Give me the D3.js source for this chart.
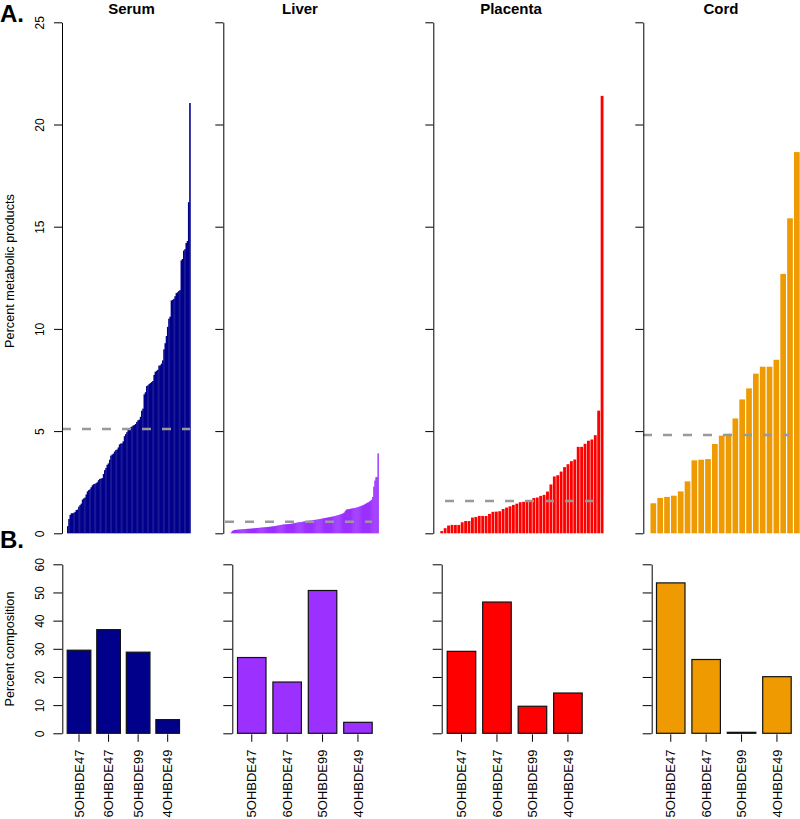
<!DOCTYPE html>
<html>
<head>
<meta charset="utf-8">
<script src="https://cdn.jsdelivr.net/npm/d3@7"></script>
<style>
  body { margin: 0; background: #fff; }
  svg { font-family: "Liberation Sans", Arial, Helvetica, sans-serif; }
</style>
</head>
<body>
<div id="chart"></div>
<script>
// data
var tissues = ["Serum", "Liver", "Placenta", "Cord"];
var colors = ["#00008B", "#9B30FF", "#FF0000", "#EE9A00"];

var serumPct = [0.35,0.7,0.9,0.98,0.98,1.0,1.05,1.14,1.16,1.3,
  1.38,1.45,1.65,1.71,1.75,1.9,2.05,2.11,2.15,2.25,
  2.35,2.4,2.42,2.45,2.5,2.6,2.66,2.68,2.7,2.9,
  3.09,3.2,3.35,3.42,3.6,3.8,3.85,3.9,4.0,4.07,
  4.1,4.2,4.35,4.39,4.4,4.5,4.75,4.85,4.95,5.1,
  5.15,5.18,5.22,5.27,5.3,5.35,5.45,5.53,5.56,5.7,
  6.0,6.1,6.8,6.9,7.2,7.24,7.3,7.35,7.4,7.45,
  7.75,7.9,7.95,8.0,8.2,8.22,8.3,8.46,9.0,9.3,
  9.65,10.1,10.5,10.6,11.39,11.42,11.47,11.6,11.75,11.79,
  11.85,11.9,13.35,13.42,13.83,13.9,14.2,14.3,16.2,21.05];

var liverPct = [0.05,0.12,0.14,0.16,0.17,0.17,0.18,0.18,0.19,0.19,
  0.2,0.2,0.2,0.21,0.21,0.22,0.22,0.22,0.23,0.23,
  0.24,0.24,0.25,0.25,0.26,0.26,0.27,0.27,0.28,0.28,
  0.29,0.29,0.3,0.3,0.31,0.31,0.32,0.32,0.33,0.34,
  0.34,0.35,0.36,0.37,0.38,0.39,0.4,0.41,0.42,0.43,
  0.43,0.44,0.44,0.45,0.45,0.46,0.46,0.47,0.48,0.49,
  0.5,0.51,0.52,0.53,0.54,0.55,0.55,0.56,0.57,0.58,
  0.59,0.6,0.6,0.61,0.62,0.62,0.63,0.64,0.65,0.66,
  0.66,0.67,0.68,0.69,0.7,0.71,0.72,0.73,0.74,0.75,
  0.76,0.77,0.78,0.79,0.8,0.81,0.82,0.83,0.84,0.86,
  0.87,0.89,0.9,0.92,0.94,0.96,0.98,1.02,1.1,1.16,
  1.17,1.18,1.19,1.2,1.21,1.22,1.23,1.24,1.25,1.27,
  1.28,1.3,1.32,1.34,1.36,1.38,1.41,1.44,1.47,1.5,
  1.52,1.56,1.6,1.64,1.78,2.28,2.58,2.74,2.76,3.91];

var placentaPct = [0.11,0.25,0.38,0.41,0.41,0.41,0.54,0.6,0.6,0.77,
  0.8,0.85,0.85,0.85,0.95,1.05,1.06,1.08,1.19,1.26,
  1.32,1.39,1.45,1.52,1.54,1.55,1.62,1.73,1.75,1.83,
  1.88,2.04,2.39,2.78,2.84,3.02,3.24,3.38,3.53,3.61,
  4.23,4.23,4.38,4.53,4.59,4.8,6.0,21.4];

var cordPct = [1.47,1.73,1.78,1.84,2.05,2.54,3.57,3.6,3.63,4.37,4.78,
  4.87,5.62,6.55,7.09,7.81,8.15,8.15,8.49,12.69,15.41,18.65];

var medianPct = [5.1, 0.57, 1.58, 4.81];

var metabolites = ["5OHBDE47", "6OHBDE47", "5OHBDE99", "4OHBDE49"];
var compSerum = [29.5, 36.8, 28.8, 4.85];
var compLiver = [26.9, 18.2, 50.7, 3.9];
var compPlacenta = [29.1, 46.6, 9.6, 14.3];
var compCord = [53.4, 26.2, 0.35, 20.1];

var topTicks = [0, 5, 10, 15, 20, 25];
var bottomTicks = [0, 10, 20, 30, 40, 50, 60];

var topSeries = [serumPct, liverPct, placentaPct, cordPct];
var bottomSeries = [compSerum, compLiver, compPlacenta, compCord];

// panel placement (pixels)
var topLayout = [
  {axisX: 62,    x0: 67,    x1: 190.4, titleX: 131.5, dash: [62, 190]},
  {axisX: 223.3, x0: 230.7, x1: 378.5, titleX: 300,   dash: [225, 372]},
  {axisX: 433.3, x0: 440.3, x1: 603.5, titleX: 511,   dash: [445, 595]},
  {axisX: 643.3, x0: 650.5, x1: 799.7, titleX: 721,   dash: [643, 789]}
];
var bottomLayout = [
  {axisX: 62.3,  x0: 66.7,  x1: 180},
  {axisX: 232.3, x0: 237,   x1: 372.7},
  {axisX: 441.7, x0: 446.7, x1: 582.7},
  {axisX: 651.7, x0: 656,   x1: 791.7}
];

var svg = d3.select("#chart")
  .append("svg")
  .attr("width", 800)
  .attr("height", 819);

var yTop = d3.scaleLinear().domain([0, 25]).range([533.3, 22.3]);
var yBot = d3.scaleLinear().domain([0, 60]).range([733.3, 564.3]);

function styleAxis(g, showLabels) {
  g.select(".domain").attr("stroke", "#000").attr("stroke-width", 1);
  g.selectAll(".tick line").attr("stroke", "#000").attr("stroke-width", 1);
  g.selectAll(".tick text")
    .attr("x", 0).attr("y", 0).attr("dy", 0)
    .attr("text-anchor", "middle")
    .attr("transform", "translate(-18.5,0) rotate(-90)")
    .attr("font-size", "12px")
    .attr("fill", "#000")
    .style("display", showLabels ? null : "none");
}

// top row
tissues.forEach(function(name, p) {
  var L = topLayout[p];
  var vals = topSeries[p];
  // dense panels: bars touch (slight overlap hides antialias seams)
  var dense = (L.x1 - L.x0) / vals.length < 2;
  var x = d3.scaleBand()
    .domain(d3.range(vals.length))
    .range([L.x0, L.x1])
    .paddingInner(dense ? 0 : 0.2 / 1.2)
    .paddingOuter(0);
  var bw = dense ? x.bandwidth() + 0.35 : x.bandwidth();

  var g = svg.append("g");
  g.selectAll("rect")
    .data(vals)
    .enter()
    .append("rect")
    .attr("x", function(d, i) { return x(i); })
    .attr("y", function(d) { return yTop(d); })
    .attr("width", bw)
    .attr("height", function(d) { return yTop(0) - yTop(d); })
    .attr("fill", colors[p]);

  g.append("line")
    .attr("x1", L.dash[0]).attr("x2", L.dash[1])
    .attr("y1", yTop(medianPct[p])).attr("y2", yTop(medianPct[p]))
    .attr("stroke", "#999")
    .attr("stroke-width", 2.5)
    .attr("stroke-dasharray", "9,11");

  var ax = svg.append("g")
    .attr("transform", "translate(" + L.axisX + ",0)")
    .call(d3.axisLeft(yTop).tickValues(topTicks).tickSize(8).tickSizeOuter(0));
  styleAxis(ax, p == 0);

  svg.append("text")
    .attr("x", L.titleX)
    .attr("y", 13.5)
    .attr("text-anchor", "middle")
    .attr("font-size", "15px")
    .attr("font-weight", "bold")
    .text(name);
});

// bottom row
tissues.forEach(function(name, p) {
  var L = bottomLayout[p];
  var vals = bottomSeries[p];
  var x = d3.scaleBand()
    .domain(metabolites)
    .range([L.x0, L.x1])
    .paddingInner(0.2 / 1.2)
    .paddingOuter(0);

  var g = svg.append("g");
  g.selectAll("rect")
    .data(vals)
    .enter()
    .append("rect")
    .attr("x", function(d, i) { return x(metabolites[i]) + 0.5; })
    .attr("y", function(d) { return yBot(d); })
    .attr("width", x.bandwidth() - 1)
    .attr("height", function(d) { return yBot(0) - yBot(d); })
    .attr("fill", colors[p])
    .attr("stroke", "#111")
    .attr("stroke-width", 1.2);

  g.selectAll(".xtick")
    .data(metabolites)
    .enter()
    .append("line")
    .attr("x1", function(d) { return x(d) + x.bandwidth() / 2; })
    .attr("x2", function(d) { return x(d) + x.bandwidth() / 2; })
    .attr("y1", yBot(0) + 1)
    .attr("y2", yBot(0) + 8.5)
    .attr("stroke", "#000");

  g.selectAll(".xlab")
    .data(metabolites)
    .enter()
    .append("text")
    .attr("transform", function(d) {
      return "translate(" + (x(d) + x.bandwidth() / 2 + 4.7) + ",749.5) rotate(-90)";
    })
    .attr("text-anchor", "end")
    .attr("font-size", "13px")
    .text(function(d) { return d; });

  var ax = svg.append("g")
    .attr("transform", "translate(" + L.axisX + ",0)")
    .call(d3.axisLeft(yBot).tickValues(bottomTicks).tickSize(9).tickSizeOuter(0));
  styleAxis(ax, p == 0);
});

// axis titles and panel letters
svg.append("text")
  .attr("transform", "translate(13.5,271) rotate(-90)")
  .attr("text-anchor", "middle")
  .attr("font-size", "12.7px")
  .text("Percent metabolic products");

svg.append("text")
  .attr("transform", "translate(13.5,649) rotate(-90)")
  .attr("text-anchor", "middle")
  .attr("font-size", "12.7px")
  .text("Percent composition");

svg.append("text")
  .attr("x", 0).attr("y", 22)
  .attr("font-size", "24px")
  .attr("font-weight", "bold")
  .text("A.");

svg.append("text")
  .attr("x", 0).attr("y", 548)
  .attr("font-size", "24px")
  .attr("font-weight", "bold")
  .text("B.");
</script>
</body>
</html>
